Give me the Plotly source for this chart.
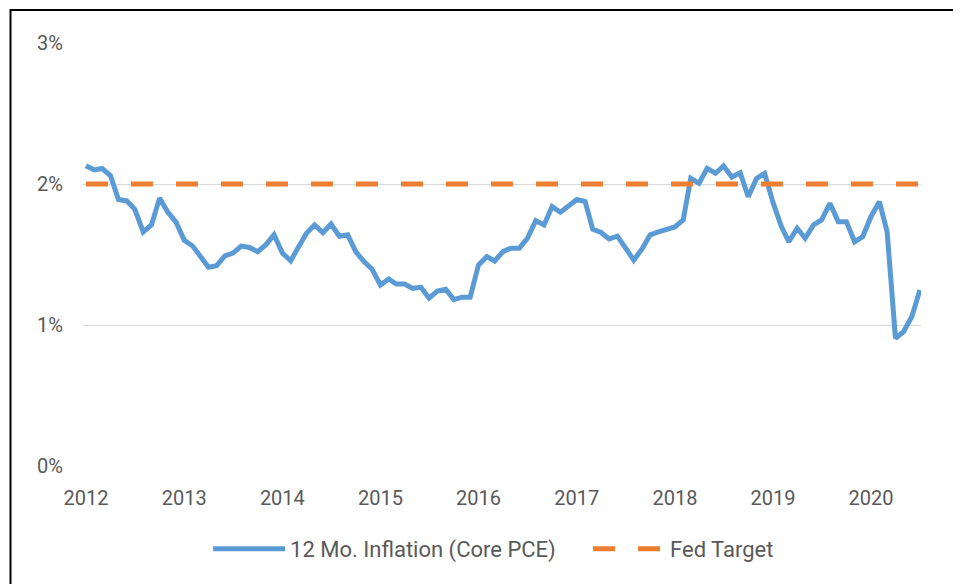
import pandas as pd
import plotly.graph_objects as go

# Monthly 12-month core PCE inflation (%), Jan 2012 - Jul 2020
core_pce = [
    2.13, 2.10, 2.11, 2.06, 1.89, 1.88, 1.82, 1.66, 1.71, 1.90, 1.80, 1.73,
    1.60, 1.56, 1.49, 1.41, 1.42, 1.49, 1.51, 1.56, 1.55, 1.52, 1.57, 1.64,
    1.51, 1.455, 1.55, 1.65, 1.71, 1.655, 1.716, 1.63, 1.64, 1.52, 1.45, 1.395,
    1.284, 1.326, 1.29, 1.29, 1.26, 1.267, 1.19, 1.24, 1.253, 1.18, 1.197, 1.197,
    1.426, 1.485, 1.454, 1.52, 1.545, 1.545, 1.615, 1.74, 1.71, 1.84, 1.80, 1.85,
    1.89, 1.875, 1.68, 1.656, 1.61, 1.63, 1.545, 1.46, 1.54, 1.64, 1.66, 1.675,
    1.695, 1.745, 2.04, 2.005, 2.11, 2.076, 2.128, 2.05, 2.08, 1.91, 2.04, 2.076,
    1.87, 1.70, 1.59, 1.686, 1.615, 1.71, 1.745, 1.863, 1.733, 1.733, 1.59, 1.626,
    1.77, 1.875, 1.66, 0.906, 0.952, 1.06, 1.248,
]
start_month = "2012-01-01"
fed_target = 2.0
year_ticks = [f"{y}-01-01" for y in range(2012, 2021)]
year_labels = [str(y) for y in range(2012, 2021)]
y_ticks = [0, 1, 2, 3]
y_labels = ["0%", "1%", "2%", "3%"]

dates = pd.date_range(start_month, periods=len(core_pce), freq="MS")

TEXT = "#595959"
FONT = "Roboto, Lato, sans-serif"
NBSP = "\u00a0"

fig = go.Figure()
fig.add_trace(go.Scatter(
    x=dates, y=core_pce, mode="lines",
    name="12 Mo. Inflation (Core PCE)" + NBSP * 5,
    line=dict(color="#5B9BD5", width=5),
))
fig.add_trace(go.Scatter(
    x=[dates[0], dates[-1]], y=[fed_target, fed_target], mode="lines",
    name="Fed Target",
    line=dict(color="#ED7D31", width=5, dash="22px,23px"),
))

# page has an 8px body margin, so figure is 953x576 placed at (8,8)
fig.update_layout(
    width=953, height=576,
    margin=dict(l=75, r=40, t=35, b=118),
    paper_bgcolor="white", plot_bgcolor="white",
    font=dict(family=FONT, size=20, color=TEXT),
    showlegend=True,
    legend=dict(orientation="h", x=0.49, xanchor="center", y=-0.196,
                yanchor="middle", itemwidth=72, font=dict(size=22, color=TEXT),
                traceorder="normal"),
    shapes=[dict(type="rect", xref="paper", yref="paper",
                 x0=-0.0865, x1=1.06, y0=-0.3, y1=1.078,
                 line=dict(color="black", width=2), layer="above")],
)
fig.update_xaxes(
    type="date", range=["2011-12-21", "2020-07-05"],
    tickvals=year_ticks, ticktext=year_labels,
    showgrid=False, zeroline=False, showline=False,
    ticks="outside", ticklen=14, tickcolor="rgba(0,0,0,0)",
    tickfont=dict(size=20, color=TEXT),
)
fig.update_yaxes(
    range=[0, 3], tickvals=y_ticks, ticktext=y_labels,
    showgrid=True, gridcolor="#D9D9D9", gridwidth=1.3,
    zeroline=False, showline=False,
    ticks="outside", ticklen=15, tickcolor="rgba(0,0,0,0)",
    tickfont=dict(size=20, color=TEXT),
)

fig.write_html("out.html")
